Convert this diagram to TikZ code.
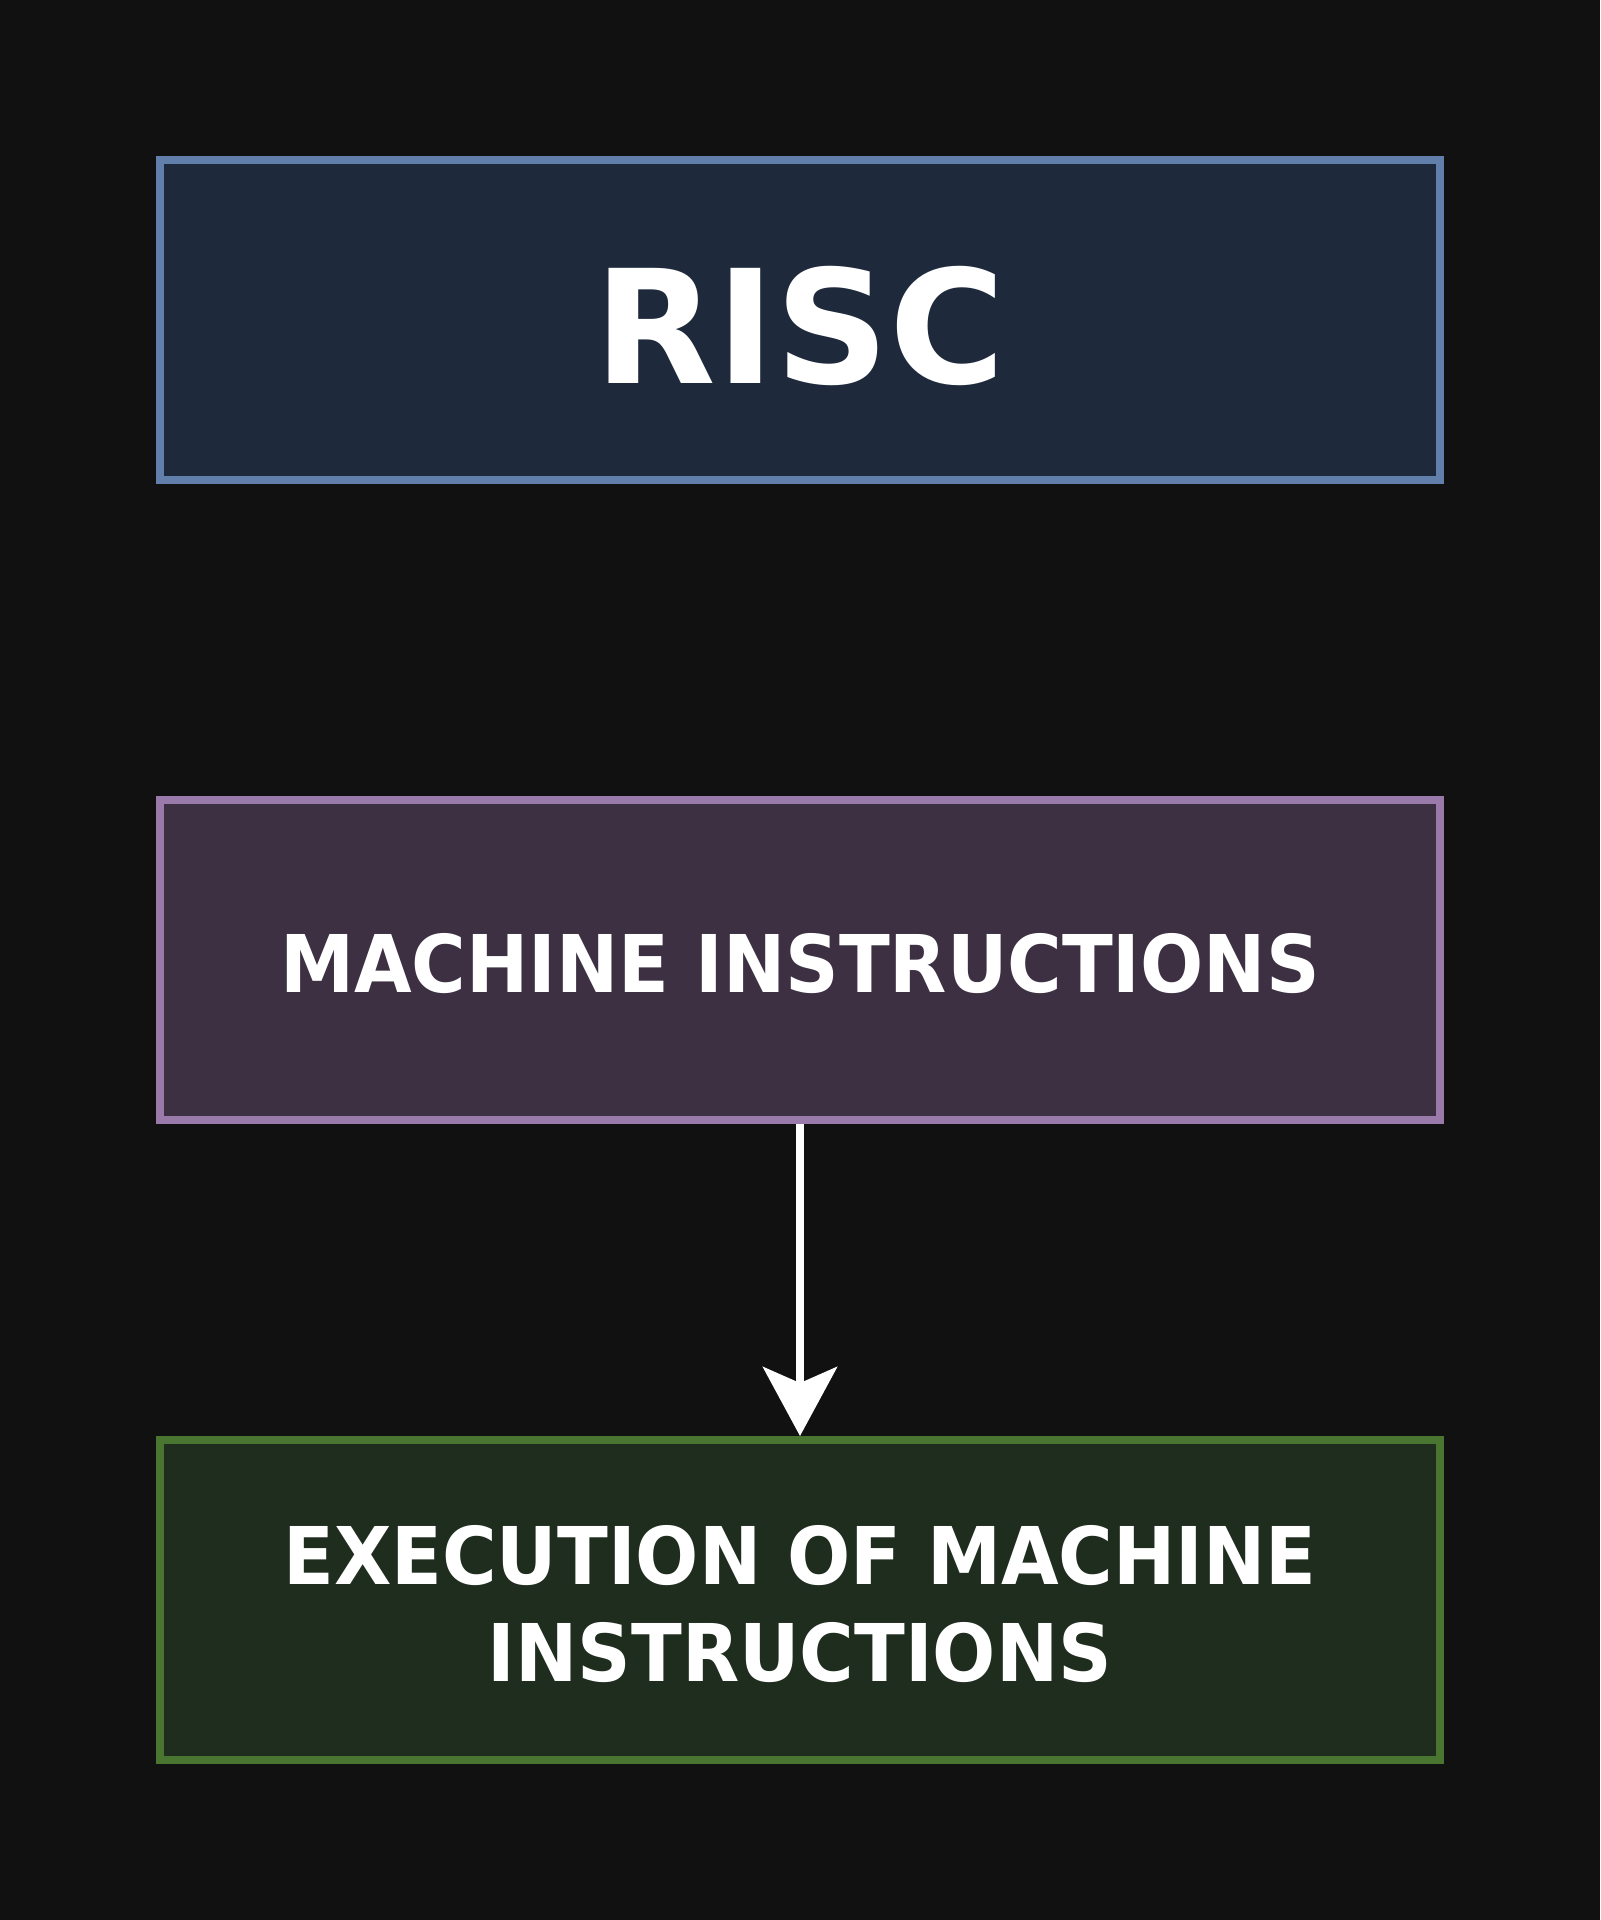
\documentclass[tikz,border=0pt]{standalone}
\usepackage{fontspec}
\setmainfont{DejaVu Sans}
\newfontfamily\narrowbold[FakeStretch=0.935]{DejaVu Sans Bold}
\usetikzlibrary{arrows.meta}
\definecolor{bg}{HTML}{111111}
\definecolor{bfill}{HTML}{1E293B}
\definecolor{bdraw}{HTML}{617FAA}
\definecolor{pfill}{HTML}{3C3042}
\definecolor{pdraw}{HTML}{9A7AAA}
\definecolor{gfill}{HTML}{1F2D1F}
\definecolor{gdraw}{HTML}{4A7530}
\newcommand{\lowered}[2]{\raisebox{-#1}[\height][\depth]{#2}}
\tikzset{
  box/.style={rectangle, minimum width=640pt, minimum height=160pt, line width=4pt, inner sep=0pt, text=white, align=center, font=\bfseries},
  conn/.style={draw=white, line width=4pt, -{Stealth[length=34.5pt, width=37pt, inset=8pt]}}
}
\begin{document}
\begin{tikzpicture}[x=0.5pt, y=-0.5pt]
  \fill[bg] (0,0) rectangle (1600,1920);
  \useasboundingbox (0,0) rectangle (1600,1920);
  \node[box, fill=bfill, draw=bdraw, font=\bfseries\fontsize{79pt}{90pt}\selectfont] (risc) at (800,320) {\lowered{2.75pt}{RISC}};
  \node[box, fill=pfill, draw=pdraw, font=\narrowbold\fontsize{39.8pt}{48.5pt}\selectfont] (mi) at (800,960) {\lowered{1.75pt}{MACHINE INSTRUCTIONS}};
  \node[box, fill=gfill, draw=gdraw, font=\narrowbold\fontsize{39.8pt}{48.5pt}\selectfont] (ex) at (800,1600) {\lowered{2pt}{EXECUTION OF MACHINE}\\\lowered{2pt}{INSTRUCTIONS}};
  \draw[conn] (mi.south) -- (ex.north);
\end{tikzpicture}
\end{document}
